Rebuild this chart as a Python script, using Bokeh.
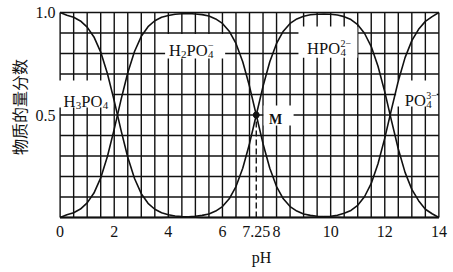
import numpy as np
from bokeh.plotting import figure
from bokeh.models import Range1d, FixedTicker, CustomJSTickFormatter
from bokeh.core.properties import value
from bokeh.embed import file_html
from bokeh.resources import INLINE

# ---------------- data ----------------
ph = [i * 0.25 for i in range(57)]  # 0 .. 14

h3po4 = [1.0, 0.987, 0.977, 0.959, 0.929, 0.881, 0.807, 0.701, 0.569, 0.426,
         0.294, 0.190, 0.116, 0.069, 0.040, 0.023, 0.013, 0.007, 0.004, 0.002,
         0.001] + [0.0] * 36

h2po4 = [0.0, 0.013, 0.023, 0.041, 0.071, 0.119, 0.193, 0.299, 0.431, 0.574,
         0.706, 0.810, 0.884, 0.931, 0.960, 0.977, 0.986, 0.992, 0.994, 0.995,
         0.993, 0.990, 0.983, 0.969, 0.947, 0.909, 0.849, 0.760, 0.640, 0.500,
         0.360, 0.240, 0.151, 0.091, 0.053, 0.031, 0.017, 0.010, 0.006, 0.003,
         0.002, 0.001] + [0.0] * 15

hpo4 = [0.0] * 16 + [0.001, 0.001, 0.002, 0.003, 0.006, 0.010, 0.017, 0.031,
                     0.053, 0.091, 0.151, 0.240, 0.360, 0.500, 0.640, 0.760,
                     0.849, 0.909, 0.947, 0.969, 0.982, 0.989, 0.992, 0.993,
                     0.992, 0.988, 0.980, 0.966, 0.941, 0.899, 0.834, 0.738,
                     0.613, 0.471, 0.334, 0.220, 0.137, 0.082, 0.040, 0.018,
                     0.0]

po4 = [0.0] * 37 + [0.001, 0.002, 0.004, 0.006, 0.011, 0.020, 0.034, 0.059,
                    0.101, 0.166, 0.262, 0.387, 0.529, 0.666, 0.780, 0.863,
                    0.918, 0.957, 0.980, 1.0]

m_ph = 7.25
m_frac = 0.5

x_ticks = [0, 2, 4, 6, 7.25, 8, 10, 12, 14]
x_tick_labels = ["0", "2", "4", "6", "7.25", "8", "10", "12", "14"]
y_ticks = [0.5, 1.0]
y_tick_labels = ["0.5", "1.0"]

grid_x = [i * 0.5 for i in range(29)]
grid_y = [i * 0.1 for i in range(11)]

y_title = "物质的量分数"
x_title = "pH"

# label structure: (base text, subscript, superscript)
species_labels = {
    "H3PO4": [("H", "3", ""), ("PO", "4", "")],
    "H2PO4-": [("H", "2", ""), ("PO", "4", "\u2212")],
    "HPO4 2-": [("HPO", "4", "2\u2212")],
    "PO4 3-": [("PO", "4", "3\u2212")],
}

# ---------------- layout ----------------
W, H = 453, 272
BL, BR, BT, BB = 58, 13, 10, 53
XR = (-0.06, 14.06)
YR = (-0.01, 1.01)
PXX = (XR[1] - XR[0]) / (W - BL - BR)   # data units per px (x)
PXY = (YR[1] - YR[0]) / (H - BT - BB)   # data units per px (y)

SERIF = "Liberation Serif"
INK = "#111111"

p = figure(width=W, height=H, x_range=Range1d(*XR), y_range=Range1d(*YR),
           output_backend="svg", toolbar_location=None,
           min_border_left=BL, min_border_right=BR,
           min_border_top=BT, min_border_bottom=BB)
p.outline_line_color = None
p.xgrid.visible = False
p.ygrid.visible = False
p.background_fill_color = "white"
p.border_fill_color = "white"

# axes (tick labels and titles only)
JS = """
const i = tk.findIndex(t => Math.abs(t - tick) < 1e-9);
return i >= 0 ? lb[i] : '';
"""
xfmt = CustomJSTickFormatter(args=dict(tk=x_ticks, lb=x_tick_labels), code=JS)
yfmt = CustomJSTickFormatter(args=dict(tk=y_ticks, lb=y_tick_labels), code=JS)
for ax, tks, fmt in ((p.xaxis[0], x_ticks, xfmt), (p.yaxis[0], y_ticks, yfmt)):
    ax.ticker = FixedTicker(ticks=tks)
    ax.formatter = fmt
    ax.axis_line_color = None
    ax.major_tick_line_color = None
    ax.minor_tick_line_color = None
    ax.major_tick_out = 0
    ax.major_tick_in = 0
    ax.major_label_text_font = SERIF
    ax.major_label_text_font_size = "16px"
    ax.major_label_text_color = INK
    ax.axis_label_text_font_style = "normal"
    ax.axis_label_text_color = INK
    ax.axis_label_text_font_size = "16px"
p.xaxis[0].major_label_standoff = 6
p.yaxis[0].major_label_standoff = 3
p.xaxis[0].axis_label = "\u2002\u2002\u2002" + x_title
p.xaxis[0].axis_label_text_font = SERIF
p.xaxis[0].axis_label_standoff = 9
p.yaxis[0].axis_label = "\u3000" + y_title
p.yaxis[0].axis_label_text_font = "Noto Sans CJK SC"
p.yaxis[0].axis_label_standoff = 2

# grid lines
p.segment(x0=grid_x, y0=[0] * len(grid_x), x1=grid_x, y1=[1] * len(grid_x),
          line_color=INK, line_width=1.4)
p.segment(x0=[0] * len(grid_y), y0=grid_y, x1=[14] * len(grid_y), y1=grid_y,
          line_color=INK, line_width=1.4)

# white boxes behind the labels
boxes = dict(left=[-0.12, 3.88, 8.81, 7.52, 12.42],
             right=[1.96, 6.10, 10.99, 8.63, 13.92],
             bottom=[0.537, 0.776, 0.780, 0.449, 0.541],
             top=[0.668, 0.895, 0.932, 0.546, 0.668])
p.quad(**boxes, fill_color="white", line_color=None)

# curves
for ys in (h3po4, h2po4, hpo4, po4):
    p.line(ph, ys, line_color=INK, line_width=1.6, line_join="round")

# point M and dashed drop line
p.segment(x0=[m_ph], y0=[0], x1=[m_ph], y1=[m_frac], line_color=INK,
          line_width=1.4, line_dash="6 3")
p.scatter([m_ph], [m_frac], size=6, color=INK)

# chemical labels
CW = {"H": 0.722, "P": 0.556, "O": 0.722, "M": 0.889}
DW = 0.5
def chem(x0, y0, parts, size=16.5, sub=11, sup=10):
    out = {}
    cx = 0.0
    def add(t, dx, dy, s):
        d = out.setdefault(s, dict(x=[], y=[], text=[]))
        d["x"].append(x0 + dx * PXX)
        d["y"].append(y0 - dy * PXY)
        d["text"].append(t)
    for base, sb, sp in parts:
        add(base, cx, 0, size)
        cx += sum(CW[c] for c in base) * size
        wsub = len(sb) * DW * sub if sb else 0
        wsup = sum(0.564 if c == "\u2212" else DW for c in sp) * sup if sp else 0
        if sb:
            add(sb, cx + 0.3, 4.5, sub)
        if sp:
            add(sp, cx + 0.3, -4.5, sup)
        cx += max(wsub, wsup) + 0.3
    for s, d in out.items():
        p.text(x=d["x"], y=d["y"], text=d["text"], text_font=value(SERIF),
               text_font_size=f"{s}px", text_color=INK,
               text_align="left", text_baseline="alphabetic")

chem(0.126, 0.566, species_labels["H3PO4"])
chem(4.02, 0.815, species_labels["H2PO4-"])
chem(9.13, 0.826, species_labels["HPO4 2-"])
chem(12.74, 0.571, species_labels["PO4 3-"])
p.text(x=[7.72], y=[0.477], text=["M"], text_font=value(SERIF),
       text_font_size="14px", text_font_style="bold", text_color=INK,
       text_align="left", text_baseline="alphabetic")

open("out.html", "w").write(file_html(p, INLINE))
